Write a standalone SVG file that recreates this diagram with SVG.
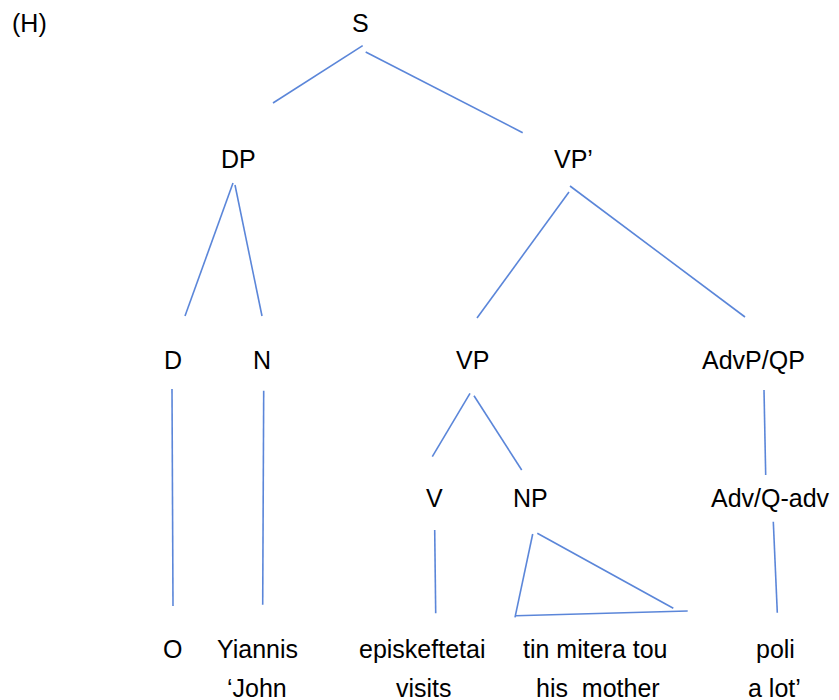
<svg xmlns="http://www.w3.org/2000/svg" width="839" height="700" viewBox="0 0 839 700">
  <style>
    text { font-family: "Liberation Sans", Arial, sans-serif; font-size: 25px; fill: #000; }
    .edge { stroke: #5b86d9; stroke-width: 1.6; fill: none; stroke-linecap: butt; }
  </style>
  <rect width="839" height="700" fill="#fff"/>

  <text x="12" y="32">(H)</text>

  <g id="node-S"><text x="352" y="32">S</text></g>
  <g id="node-DP"><text x="221" y="168">DP</text></g>
  <g id="node-VPbar"><text x="554" y="168">VP’</text></g>
  <g id="node-D"><text x="164" y="369">D</text></g>
  <g id="node-N"><text x="253" y="369">N</text></g>
  <g id="node-VP"><text x="456" y="369">VP</text></g>
  <g id="node-AdvP"><text x="702" y="369">AdvP/QP</text></g>
  <g id="node-V"><text x="426" y="507">V</text></g>
  <g id="node-NP"><text x="513" y="507">NP</text></g>
  <g id="node-Adv"><text x="711" y="507">Adv/Q-adv</text></g>

  <g id="leaf-O"><text x="163" y="658">O</text></g>
  <g id="leaf-Yiannis">
    <text x="217" y="658">Yiannis</text>
    <text x="227" y="697">‘John</text>
  </g>
  <g id="leaf-episkeftetai">
    <text x="359" y="658">episkeftetai</text>
    <text x="396" y="697">visits</text>
  </g>
  <g id="leaf-tin-mitera-tou">
    <text x="523" y="658">tin mitera tou</text>
    <text x="536" y="697" xml:space="preserve">his  mother</text>
  </g>
  <g id="leaf-poli">
    <text x="756" y="658">poli</text>
    <text x="748" y="697">a lot’</text>
  </g>

  <g id="connectors">
    <line class="edge" x1="362.7" y1="45.7" x2="273" y2="103"/>
    <line class="edge" x1="365.7" y1="52" x2="522.7" y2="132.7"/>
    <line class="edge" x1="233" y1="183" x2="185" y2="316"/>
    <line class="edge" x1="235" y1="185" x2="262" y2="316"/>
    <line class="edge" x1="569" y1="192" x2="477" y2="318"/>
    <line class="edge" x1="570" y1="186" x2="745" y2="317"/>
    <line class="edge" x1="172" y1="389" x2="173" y2="606"/>
    <line class="edge" x1="263.7" y1="390.7" x2="262.7" y2="604.7"/>
    <line class="edge" x1="470" y1="393.3" x2="432.3" y2="456.7"/>
    <line class="edge" x1="474" y1="395.7" x2="521.7" y2="470"/>
    <line class="edge" x1="764" y1="390" x2="765.7" y2="475"/>
    <line class="edge" x1="434.7" y1="530" x2="435.7" y2="613.3"/>
    <line class="edge" x1="773.3" y1="521.7" x2="777.3" y2="612.7"/>
    <!-- NP triangle -->
    <line class="edge" x1="532.7" y1="534" x2="515" y2="617.3"/>
    <line class="edge" x1="537.3" y1="533.3" x2="673.3" y2="608.3"/>
    <line class="edge" x1="515.7" y1="615.7" x2="687.7" y2="611"/>
  </g>
</svg>
